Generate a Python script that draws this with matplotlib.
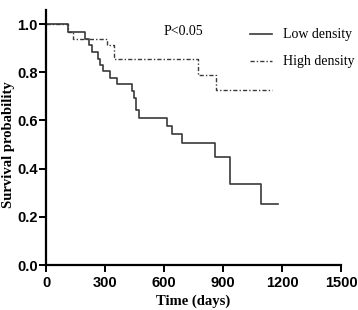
import matplotlib
matplotlib.use("Agg")
import matplotlib.pyplot as plt

# Low density (solid) step curve: times (days) and survival after each time
low_t = [0, 113, 198, 220, 232, 266, 275, 291, 325, 359, 436, 449, 458, 474, 614, 642, 690, 859, 935, 1093, 1181]
low_s = [1.0, 0.966, 0.938, 0.915, 0.884, 0.857, 0.832, 0.804, 0.777, 0.750, 0.722, 0.694, 0.643, 0.611, 0.577, 0.543, 0.505, 0.448, 0.338, 0.254, 0.254]

# High density (dash-dot) step curve
high_t = [0, 113, 139, 308, 346, 775, 863, 1147]
high_s = [1.0, 0.966, 0.938, 0.915, 0.857, 0.788, 0.725, 0.725]

x_ticks = [0, 300, 600, 900, 1200, 1500]
y_ticks = [0.0, 0.2, 0.4, 0.6, 0.8, 1.0]

fig = plt.figure(figsize=(3.58, 3.10), dpi=100)
ax = fig.add_axes([0.1285, 0.145, 0.824, 0.824])

ax.step(low_t, low_s, where='post', color='#3a3a3a', lw=1.2, label='Low density')
ax.step(high_t, high_s, where='post', color='#3a3a3a', lw=1.0,
        dashes=(3, 1.5, 1, 1.5), label='High density')

ax.set_xlim(0, 1500)
ax.set_ylim(0, 1.06)
ax.set_xticks(x_ticks)
ax.set_yticks(y_ticks)
ax.set_xticklabels([str(v) for v in x_ticks], fontfamily='Liberation Sans', fontweight='bold', fontsize=10.5)
ax.set_yticklabels([f"{v:.1f}" for v in y_ticks], fontfamily='Liberation Sans', fontweight='bold', fontsize=10.5)

for s in ['top', 'right']:
    ax.spines[s].set_visible(False)
for s in ['left', 'bottom']:
    ax.spines[s].set_linewidth(1.6)
    ax.spines[s].set_color('black')
ax.tick_params(width=1.4, length=5, direction='out')
ax.tick_params(axis='x', pad=3)
ax.tick_params(axis='y', pad=1)

ax.set_xlabel('Time (days)', fontfamily='Liberation Serif', fontweight='bold', fontsize=10.5, labelpad=3)
ax.set_ylabel('Survival probability', fontfamily='Liberation Serif', fontweight='bold', fontsize=10.5,
              va='center')
ax.yaxis.set_label_coords(-0.128, 0.47)

ax.text(697, 0.97, 'P<0.05', fontfamily='Liberation Serif', fontsize=10, ha='center', va='center')

leg = ax.legend(loc='upper right', bbox_to_anchor=(1.09, 0.975), frameon=False,
                prop={'family': 'Liberation Serif', 'size': 10},
                handlelength=1.6, handletextpad=0.8, labelspacing=1.0)

fig.savefig('out.png', dpi=100)
